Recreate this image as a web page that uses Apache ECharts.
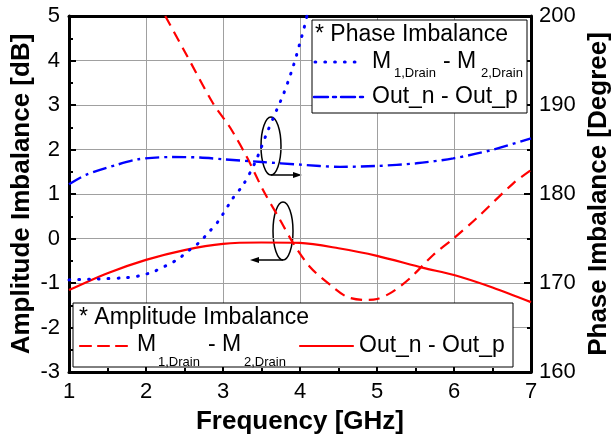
<!DOCTYPE html>
<html lang="en">
<head>
  <meta charset="UTF-8">
  <title>Amplitude / Phase Imbalance</title>
  <script src="https://cdn.jsdelivr.net/npm/echarts@6/dist/echarts.min.js"></script>
  <style>
    html, body { margin: 0; padding: 0; background: #fff; }
    #chart { width: 614px; height: 443px; }
  </style>
</head>
<body>
<div id="chart"></div>
<script>
  // amplitude imbalance [dB], left axis
  var ampDrainX = [2.25, 2.5, 2.87, 3.09, 3.31, 3.52, 3.74, 3.91, 4.13, 4.39, 4.61, 4.85, 5.0, 5.2, 5.43, 5.73, 6.0, 6.29, 6.77, 7.0];
  var ampDrainY = [5, 4.21, 3.04, 2.5, 1.83, 1.09, 0.42, -0.1, -0.64, -1.04, -1.31, -1.38, -1.36, -1.2, -0.89, -0.37, 0.01, 0.45, 1.24, 1.54];
  var ampOutX = [1, 1.5, 2, 2.5, 3, 3.5, 4, 4.5, 5, 5.6, 6, 6.5, 7];
  var ampOutY = [-1.16, -0.78, -0.48, -0.26, -0.12, -0.09, -0.1, -0.22, -0.39, -0.66, -0.82, -1.1, -1.43];
  // phase imbalance [Degree], right axis
  var phDrainX = [1, 1.37, 1.74, 1.91, 2.09, 2.25, 2.41, 2.55, 2.69, 2.82, 2.94, 3.13, 3.26, 3.42, 3.57, 3.7, 3.78, 3.85, 3.91, 3.96, 4.0, 4.05, 4.09];
  var phDrainY = [170.35, 170.45, 170.6, 170.8, 171.25, 171.9, 172.65, 173.6, 174.55, 175.75, 176.95, 179.55, 181.0, 183.6, 186.85, 189.5, 191.1, 192.75, 194.3, 195.75, 197.0, 198.55, 200];
  var phOutX = [1, 1.22, 1.61, 1.9, 2.3, 2.7, 3, 3.5, 4, 4.52, 5, 5.51, 5.99, 6.47, 7];
  var phOutY = [181.1, 182.15, 183.25, 183.9, 184.15, 184.1, 183.9, 183.6, 183.3, 183.05, 183.15, 183.45, 184.0, 184.9, 186.25];

  function pairs(xs, ys) {
    var out = [];
    for (var i = 0; i < xs.length; i++) out.push([xs[i], ys[i]]);
    return out;
  }

  var FONT = 'Liberation Sans, Arial, sans-serif';
  var RED = '#ff0000', BLUE = '#0000ff';
  var DASH = [11, 7], DOT = [0.8, 9], DASHDOT = [14, 5, 3, 5];

  var myChart = echarts.init(document.getElementById('chart'));

  var tickStyle = {show: true, inside: true, length: 7, lineStyle: {color: '#000', width: 2}};
  var minorStyle = {show: true, splitNumber: 2, length: 4, lineStyle: {color: '#000', width: 2}};
  var lineStyle = {show: true, onZero: false, lineStyle: {color: '#000', width: 3}};
  var labelStyle = {color: '#000', fontSize: 22, fontFamily: FONT};
  var nameStyle = {color: '#000', fontSize: 26, fontWeight: 'bold', fontFamily: FONT};

  // legend text pieces, x = left edge, y = vertical centre
  function txt(x, y, s, size) {
    return {type: 'text', x: x, y: y, z: 100, silent: true,
      style: {text: s, fontSize: size, fontFamily: FONT, fill: '#000', align: 'left', verticalAlign: 'middle'}};
  }
  function sample(x1, x2, y, color, dash, w) {
    return {type: 'line', z: 100, silent: true, shape: {x1: x1, y1: y, x2: x2, y2: y},
      style: {stroke: color, lineWidth: w || 2.2, lineDash: dash, lineCap: 'round'}};
  }

  var option = {
    animation: false,
    grid: {left: 69, right: 83, top: 16, bottom: 71, outerBoundsMode: 'none'},
    xAxis: [{
      type: 'value', min: 1, max: 7, interval: 1,
      name: 'Frequency [GHz]', nameLocation: 'middle', nameGap: 37, nameMoveOverlap: false,
      nameTextStyle: nameStyle,
      axisLine: lineStyle, axisTick: tickStyle, minorTick: minorStyle,
      axisLabel: Object.assign({margin: 9}, labelStyle),
      splitLine: {show: true, lineStyle: {color: '#a0a0a0', width: 1}}
    }, {
      type: 'value', min: 1, max: 7, position: 'top',
      axisLine: lineStyle, axisTick: {show: false}, axisLabel: {show: false}, splitLine: {show: false}
    }],
    yAxis: [{
      type: 'value', min: -3, max: 5, interval: 1,
      name: 'Amplitude Imbalance [dB]', nameLocation: 'middle', nameGap: 34, nameMoveOverlap: false,
      nameTextStyle: nameStyle,
      axisLine: lineStyle, axisTick: tickStyle, minorTick: minorStyle,
      axisLabel: Object.assign({margin: 9}, labelStyle),
      splitLine: {show: true, lineStyle: {color: '#a0a0a0', width: 1}}
    }, {
      type: 'value', min: 160, max: 200, interval: 10, position: 'right',
      name: 'Phase Imbalance [Degree]', nameLocation: 'middle', nameGap: 55, nameRotate: 90,
      nameMoveOverlap: false, nameTextStyle: nameStyle,
      axisLine: lineStyle, axisTick: tickStyle, minorTick: minorStyle,
      axisLabel: Object.assign({margin: 8}, labelStyle),
      splitLine: {show: false}
    }],
    series: [
      {name: 'amp M', type: 'line', yAxisIndex: 0, smooth: 0.3, symbol: 'none', clip: true,
        lineStyle: {color: RED, width: 2.2, type: DASH}, data: pairs(ampDrainX, ampDrainY)},
      {name: 'amp Out', type: 'line', yAxisIndex: 0, smooth: 0.3, symbol: 'none', clip: true,
        lineStyle: {color: RED, width: 2.2}, data: pairs(ampOutX, ampOutY)},
      {name: 'phase M', type: 'line', yAxisIndex: 1, smooth: 0.3, symbol: 'none', clip: true,
        lineStyle: {color: BLUE, width: 3, type: DOT, cap: 'round'}, data: pairs(phDrainX, phDrainY)},
      {name: 'phase Out', type: 'line', yAxisIndex: 1, smooth: 0.3, symbol: 'none', clip: true,
        lineStyle: {color: BLUE, width: 2.4, type: DASHDOT}, data: pairs(phOutX, phOutY)}
    ],
    graphic: [
      // ellipse + arrow -> right axis
      {type: 'ellipse', silent: true, shape: {cx: 271, cy: 146, rx: 10, ry: 29},
        style: {fill: 'none', stroke: '#000', lineWidth: 1.5}},
      {type: 'line', silent: true, shape: {x1: 271, y1: 175, x2: 295, y2: 175}, style: {stroke: '#000', lineWidth: 1.5}},
      {type: 'polygon', silent: true, shape: {points: [[302, 175], [293, 172], [293, 178]]}, style: {fill: '#000'}},
      // ellipse + arrow -> left axis
      {type: 'ellipse', silent: true, shape: {cx: 283, cy: 231, rx: 10, ry: 29},
        style: {fill: 'none', stroke: '#000', lineWidth: 1.5}},
      {type: 'line', silent: true, shape: {x1: 283, y1: 260, x2: 257, y2: 260}, style: {stroke: '#000', lineWidth: 1.5}},
      {type: 'polygon', silent: true, shape: {points: [[250, 260], [259, 257], [259, 263]]}, style: {fill: '#000'}},

      // phase legend box
      {type: 'rect', silent: true, z: 90, shape: {x: 312, y: 20, width: 215, height: 93},
        style: {fill: '#fff', stroke: '#000', lineWidth: 1}},
      txt(315, 35, '* Phase Imbalance', 23),
      sample(315, 362, 62, BLUE, DOT, 3),
      txt(372, 62, 'M', 23), txt(394, 73, '1,Drain', 13),
      txt(443, 62, '- M', 23), txt(481, 73, '2,Drain', 13),
      sample(314, 366, 97, BLUE, DASHDOT, 2.4),
      txt(372, 97, 'Out_n - Out_p', 23),

      // amplitude legend box
      {type: 'rect', silent: true, z: 90, shape: {x: 73, y: 303, width: 440, height: 64},
        style: {fill: '#fff', stroke: '#000', lineWidth: 1}},
      txt(79, 318, '* Amplitude Imbalance', 23),
      sample(80, 132, 346, RED, DASH, 2.2),
      txt(137, 345, 'M', 23), txt(158, 362, '1,Drain', 13),
      txt(208, 345, '- M', 23), txt(244, 362, '2,Drain', 13),
      sample(300, 353, 346, RED, null, 2.2),
      txt(359, 346, 'Out_n - Out_p', 23)
    ]
  };

  option && myChart.setOption(option);
</script>
</body>
</html>
